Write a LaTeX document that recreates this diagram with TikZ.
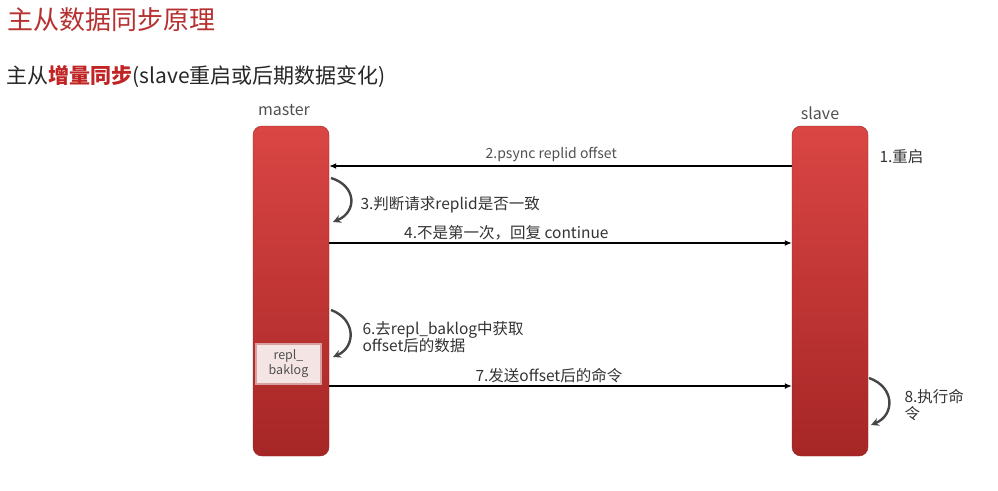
\documentclass[tikz,border=0pt]{standalone}
\usepackage{fontspec}
\setmainfont{Noto Sans CJK SC}
\usepackage{tikz}
\usetikzlibrary{positioning}
\usetikzlibrary{arrows.meta}
\definecolor{titlered}{RGB}{183,48,48}
\definecolor{boldred}{RGB}{192,36,36}
\definecolor{bartop}{RGB}{218,70,68}
\definecolor{barbot}{RGB}{166,38,38}
\definecolor{txtgray}{RGB}{80,80,80}
\definecolor{loopgray}{RGB}{70,70,70}
\definecolor{logfill}{RGB}{244,228,228}
\definecolor{logline}{RGB}{214,160,160}

\begin{document}
\begin{tikzpicture}[x=1pt,y=-1pt,
    bar/.style={rectangle,rounded corners=9pt,minimum width=76pt,minimum height=330pt,
        top color=bartop,bottom color=barbot,draw=barbot!90!black,line width=0.4pt},
    who/.style={text=txtgray,font=\fontsize{16}{18}\selectfont},
    stepnote/.style={text=black!80,font=\fontsize{15.5}{17}\selectfont,align=left},
    msg/.style={line width=1.3pt,-{Latex[length=7pt,width=6pt]}},
    selfloop/.style={line width=2.4pt,loopgray,-{Stealth[length=8pt,width=8pt]}}]
    \useasboundingbox (0,0) rectangle (998,490);
    % titles
    \node[anchor=west,text=titlered,font=\fontsize{26}{30}\selectfont] (title) at (4,20) {主从数据同步原理};
    \node[anchor=west,text=black!85,font=\fontsize{21}{24}\selectfont] (subtitle) at (3,77)
        {主从\textcolor{boldred}{\textbf{增量同步}}(slave重启或后期数据变化)};
    % the two bars
    \node[bar] (master) at (291,291) {};
    \node[bar] (slave) at (830,291) {};
    \node[who] (mlabel) at (284,110) {master};
    \node[who] (slabel) at (820,113) {slave};
    \node[anchor=north,rectangle,minimum width=65pt,minimum height=40pt,fill=logfill,draw=logline,
        line width=1.6pt,text=txtgray,align=center,font=\fontsize{12.5}{15}\selectfont]
        (baklog) at (288.5,343) {repl\_\\baklog};
    % messages
    \coordinate (m2) at (master.east |- 0,166);
    \coordinate (s2) at (slave.west |- 0,166);
    \coordinate (m4) at (master.east |- 0,243);
    \coordinate (s4) at (slave.west |- 0,243);
    \coordinate (m7) at (master.east |- 0,386);
    \coordinate (s7) at (slave.west |- 0,386);
    \draw[msg] (s2) -- (m2) node[pos=0.52,above=0pt,text=txtgray,font=\fontsize{14}{16}\selectfont] {2.psync replid offset};
    \draw[msg] (m4) -- (s4) node[pos=0.383,above=-1pt,stepnote] {4.不是第一次，回复 continue};
    \draw[msg] (m7) -- (s7) node[pos=0.475,above=-1pt,stepnote] {7.发送offset后的命令};
    % self loops
    \coordinate (l3a) at (331,178);
    \coordinate (l3b) at (333,222);
    \coordinate (l6a) at (331,310);
    \coordinate (l6b) at (333,357);
    \coordinate (l8a) at (869,378);
    \coordinate (l8b) at (871,425);
    \draw[selfloop] (l3a) .. controls (357,186) and (357,212) .. (l3b);
    \draw[selfloop] (l6a) .. controls (356,319) and (356,347) .. (l6b);
    \draw[selfloop] (l8a) .. controls (895,387) and (895,415) .. (l8b);
    % notes
    \node[stepnote,anchor=west] (n1) at (876,157) {1.重启};
    \node[stepnote,anchor=west] (n3) at (357,205) {3.判断请求replid是否一致};
    \node[stepnote,anchor=west] (n6) at (359,337) {6.去repl\_baklog中获取\\offset后的数据};
    \node[stepnote,anchor=west] (n8) at (901,405) {8.执行命\\令};
\end{tikzpicture}
\end{document}
